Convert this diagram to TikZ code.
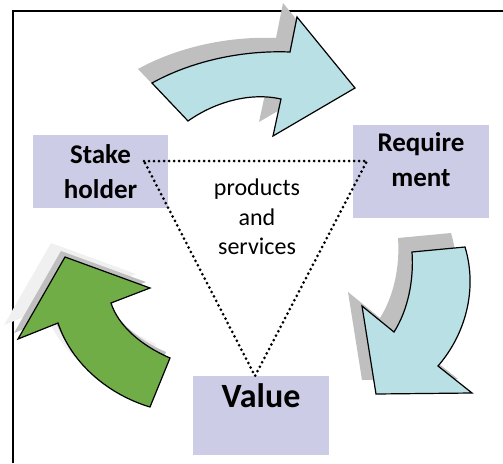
\documentclass[tikz,border=0pt]{standalone}
\usepackage{fontspec}
\setmainfont{Carlito}
\usepackage{xcolor}
\usetikzlibrary{calc}
\usetikzlibrary{positioning}
\usepackage{tikz}

\definecolor{lav}{RGB}{204,204,230}
\definecolor{aqua}{RGB}{185,224,228}
\definecolor{leaf}{RGB}{112,173,71}
\definecolor{shadowgray}{RGB}{191,191,191}

% the three bent arrows, in pixel units
\newcommand{\cyclearrowtop}{(152,83) .. controls (190,62) and (240,50) .. (290,52) -- (297,17)
  -- (355,88) -- (273,136) -- (281,99) .. controls (250,92) and (215,102) .. (188,121) -- cycle}
\newcommand{\cyclearrowside}{(412,252) -- (465,247) .. controls (478,290) and (465,335) .. (438,366)
  -- (472,393) -- (376,394) -- (362,306) -- (394,332) .. controls (408,310) and (414,280) .. (412,252) -- cycle}
\newcommand{\cyclearrowback}{(65,257) -- (150,288) -- (111,303) .. controls (118,325) and (140,345) .. (170,358)
  -- (150,407) .. controls (110,395) and (72,365) .. (58,323) -- (18,339) -- cycle}

\begin{document}
\begin{tikzpicture}[x=1pt,y=-1pt,
  box/.style={rectangle,fill=lav,inner sep=0pt},
  title/.style={font=\bfseries\fontsize{27}{34.5}\selectfont,align=center,inner sep=0pt},
  bent/.style={draw=black,line width=1.2pt,line join=miter},
  dots/.style={line width=3pt,line cap=round,dash pattern=on 0pt off 5pt}]
  \useasboundingbox (0,0) rectangle (503,463);

  \draw [line width=1.5pt] (13,463) -- (13,11) -- (503,11);

  % shadows
  \fill [shadowgray,shift={(-14,-14)}] \cyclearrowtop;
  \fill [shadowgray,shift={(-14,-14)}] \cyclearrowside;
  \fill [gray!12,shift={(-14,-14)}] \cyclearrowback;
  \fill [shadowgray,shift={(-4,-6)}] \cyclearrowback;

  \filldraw [bent,fill=aqua] \cyclearrowtop;
  \filldraw [bent,fill=aqua] \cyclearrowside;
  \filldraw [bent,fill=leaf] \cyclearrowback;

  \node [box,minimum width=135pt,minimum height=73pt] at (100.5,171.5) (stakebox) {};
  \node [box,minimum width=136pt,minimum height=93pt] at (421,171.5) (reqbox) {};
  \node [box,minimum width=136pt,minimum height=79pt] at (261,415.5) (valbox) {};

  \coordinate (tl) at (144,161);
  \coordinate (tr) at (367,161);
  \coordinate (bt) at (255,376);
  \draw [dots] (tl) -- (tr) -- (bt) -- cycle;

  \node [title] at (stakebox) (stake) {Stake\\holder};
  \node [title,anchor=north,below=8pt of reqbox.north] (req) {Require\\ment};
  \node [title,font=\bfseries\fontsize{34}{40}\selectfont,anchor=north,below=8pt of valbox.north] (val) {Value};
  \node [font=\fontsize{24}{29.5}\selectfont,align=center,inner sep=0pt,anchor=north] at (257,179) (goods)
  {products\\and\\services};
\end{tikzpicture}
\end{document}
